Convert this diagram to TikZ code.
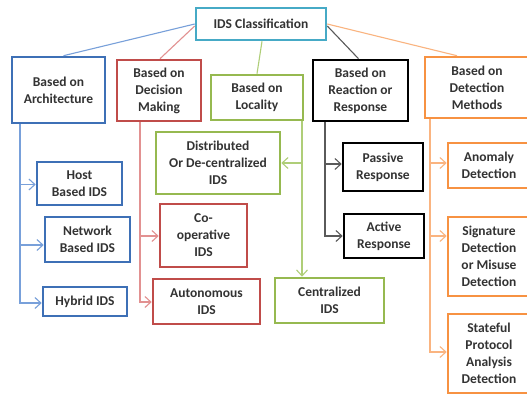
\documentclass[tikz,border=0pt]{standalone}
\usepackage{fontspec}
\setmainfont{Carlito}
\usetikzlibrary{arrows.meta}
\definecolor{cBlue}{RGB}{62,112,182}
\definecolor{lBlue}{RGB}{120,160,218}
\definecolor{cRed}{RGB}{192,76,74}
\definecolor{lRed}{RGB}{226,145,145}
\definecolor{cGreen}{RGB}{150,185,80}
\definecolor{lGreen}{RGB}{175,206,120}
\definecolor{cBlack}{RGB}{0,0,0}
\definecolor{lBlack}{RGB}{90,90,90}
\definecolor{cOrange}{RGB}{247,146,66}
\definecolor{lOrange}{RGB}{250,180,128}
\definecolor{cCyan}{RGB}{70,170,198}
\tikzset{
  box/.style={draw, line width=2.6pt, fill=white, align=center, inner sep=0pt,
    font=\fontsize{13.5}{17}\selectfont\bfseries, text=black!80},
  link/.style={line width=1.1pt},
  arr/.style={line width=1.1pt, -{Straight Barb[length=6pt,width=11pt,line width=1.1pt]}}
}
\begin{document}
\begin{tikzpicture}[x=1pt,y=-1pt]
\clip (0,0) rectangle (527,399);
\fill[white] (0,0) rectangle (527,399);
% level 1
\node[box, draw=cCyan, minimum width=130pt, minimum height=32pt, font=\fontsize{13.5}{16}\selectfont\bfseries] (title) at (261,24) {IDS Classification};
% level 2
\node[box, draw=cBlue, minimum width=93pt, minimum height=66pt] (arch) at (58.5,90) {Based on\\Architecture};
\node[box, draw=cRed, minimum width=84pt, minimum height=61pt] (dec) at (159,90.5) {Based on\\Decision\\Making};
\node[box, draw=cGreen, minimum width=92pt, minimum height=45pt] (loc) at (257,97.5) {Based on\\Locality};
\node[box, draw=cBlack, minimum width=95pt, minimum height=61pt] (reac) at (360.5,90.5) {Based on\\Reaction or\\Response};
\node[box, draw=cOrange, minimum width=104pt, minimum height=61pt] (det) at (477,87.5) {Based on\\Detection\\Methods};
% level 3
\node[box, draw=cBlue, minimum width=85pt, minimum height=43pt] (host) at (79.5,183.5) {Host\\Based IDS};
\node[box, draw=cBlue, minimum width=85pt, minimum height=45pt] (net) at (87.5,239.5) {Network\\Based IDS};
\node[box, draw=cBlue, minimum width=84pt, minimum height=29pt] (hyb) at (85,301.5) {Hybrid IDS};
\node[box, draw=cRed, minimum width=87pt, minimum height=63pt] (coop) at (203.5,235.5) {Co-\\operative\\IDS};
\node[box, draw=cRed, minimum width=107pt, minimum height=45pt] (auto) at (206.5,301.5) {Autonomous\\IDS};
\node[box, draw=cGreen, minimum width=124pt, minimum height=62pt] (dist) at (218,163) {Distributed\\Or De-centralized\\IDS};
\node[box, draw=cGreen, minimum width=109pt, minimum height=45pt] (cent) at (329.5,300.5) {Centralized\\IDS};
\node[box, draw=cBlack, minimum width=80pt, minimum height=48pt] (pass) at (383,167) {Passive\\Response};
\node[box, draw=cBlack, minimum width=80pt, minimum height=44pt] (act) at (384,236) {Active\\Response};
\node[box, draw=cOrange, minimum width=82pt, minimum height=45pt] (anom) at (489,165.5) {Anomaly\\Detection};
\node[box, draw=cOrange, minimum width=82pt, minimum height=79pt] (sig) at (489,256.5) {Signature\\Detection\\or Misuse\\Detection};
\node[box, draw=cOrange, minimum width=82pt, minimum height=79pt] (stat) at (489,353.5) {Stateful\\Protocol\\Analysis\\Detection};
% links from title
\draw[link, lBlue] (title.west) -- ([xshift=5pt]arch.north);
\draw[link, lRed] ([yshift=-2pt]title.west) -- ([xshift=1pt]dec.north);
\draw[link, lGreen] ([xshift=1pt]title.south) -- (loc.north);
\draw[link, lBlack] ([yshift=-2pt]title.east) -- ([xshift=-2pt]reac.north);
\draw[link, lOrange] (title.east) -- ([xshift=-20pt]det.north);
% branch coordinates
\coordinate (b0) at (20,124.4);
\coordinate (r0) at (140,122.4);
\coordinate (g0) at (302,121.4);
\coordinate (k0) at (325,122.4);
\coordinate (o0) at (430,119.4);
% blue
\draw[arr, lBlue] (b0) |- ([yshift=-1pt]host.west);
\draw[arr, lBlue] (b0) |- ([yshift=-5.5pt]net.west);
\draw[arr, lBlue] (b0) |- ([yshift=-1.5pt]hyb.west);
% red
\draw[arr, lRed] (r0) |- ([yshift=-0.5pt]coop.west);
\draw[arr, lRed] (r0) |- ([yshift=-0.5pt]auto.west);
% green
\draw[arr, lGreen] (g0) |- (dist.east);
\draw[arr, lGreen] (g0) -- (g0 |- cent.north);
% black
\draw[arr, lBlack] (k0) |- ([yshift=3pt]pass.west);
\draw[arr, lBlack] (k0) |- (act.west);
% orange
\draw[arr, lOrange] (o0) |- ([yshift=2.5pt]anom.west);
\draw[arr, lOrange] (o0) |- ([yshift=20.5pt]sig.west);
\draw[arr, lOrange] (o0) |- ([yshift=1.5pt]stat.west);
\end{tikzpicture}
\end{document}
